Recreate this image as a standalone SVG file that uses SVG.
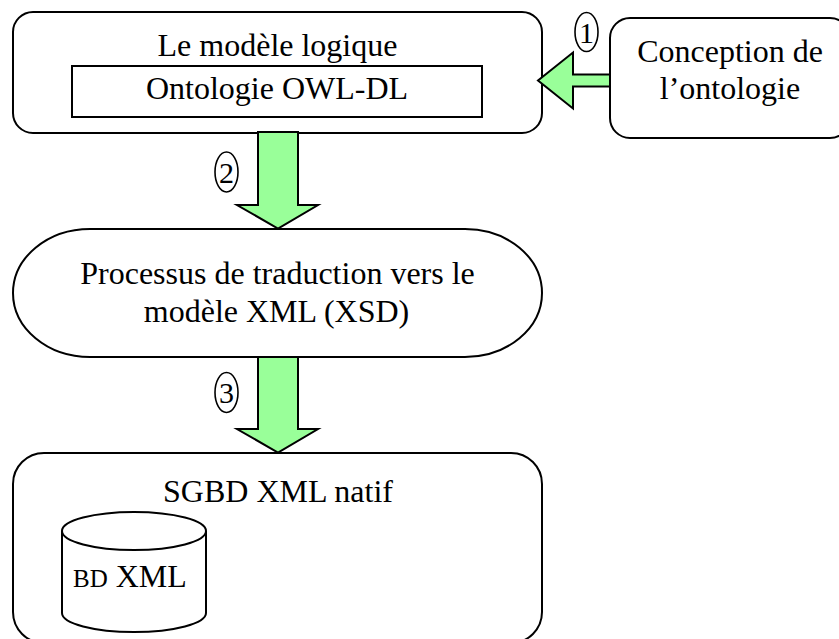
<svg xmlns="http://www.w3.org/2000/svg" width="839" height="639" viewBox="0 0 839 639">
  <style>
    .box { fill: #ffffff; stroke: #000000; stroke-width: 2; }
    .inner { fill: none; stroke: #000000; stroke-width: 2; }
    .lbl { font-family: "Liberation Serif", "Times New Roman", serif; font-size: 32px; fill: #000000; text-anchor: middle; }
    .small { font-size: 25px; }
    .step { fill: #ffffff; stroke: #000000; stroke-width: 1.6; }
    .stepnum { font-family: "Liberation Serif", "Times New Roman", serif; font-size: 30px; fill: #000000; text-anchor: middle; }
    .arrow { fill: #99ff99; stroke: #000000; stroke-width: 2; stroke-linejoin: miter; }
  </style>

  <rect width="839" height="639" fill="#ffffff"/>

  <!-- Logical model with its OWL-DL ontology -->
  <g id="modele-logique">
    <rect class="box" x="13" y="12" width="529" height="121" rx="20" ry="20"/>
    <text class="lbl" x="277.5" y="56">Le modèle logique</text>
    <rect class="inner" x="72" y="66" width="410" height="51"/>
    <text class="lbl" x="277" y="99">Ontologie OWL-DL</text>
  </g>

  <!-- Ontology design (box runs past the right edge) -->
  <g id="conception">
    <rect class="box" x="610" y="18" width="240" height="120" rx="20" ry="20"/>
    <text class="lbl" x="730" y="62">Conception de</text>
    <text class="lbl" x="730" y="99">l’ontologie</text>
  </g>

  <!-- Translation process -->
  <g id="traduction">
    <rect class="box" x="13" y="229" width="529" height="128" rx="77" ry="64"/>
    <text class="lbl" x="277.5" y="284">Processus de traduction vers le</text>
    <text class="lbl" x="276.5" y="322">modèle XML (XSD)</text>
  </g>

  <!-- Native XML DBMS holding the XML database -->
  <g id="sgbd">
    <rect class="box" x="13" y="453" width="529" height="190" rx="31" ry="31"/>
    <text class="lbl" x="278" y="502">SGBD XML natif</text>
    <g id="bd-xml">
      <path class="box" d="M62,531 V613 A72,19 0 0 0 206,613 V531"/>
      <ellipse class="box" cx="134" cy="531" rx="72" ry="19"/>
      <text class="lbl" x="73" y="587" style="text-anchor:start"><tspan class="small">BD</tspan> XML</text>
    </g>
  </g>

  <!-- Block arrows with their step numbers -->
  <g id="connecteurs">
    <path class="arrow" d="M610,74.5 H573 V52.5 L538,80.5 L573,108.5 V86.5 H610 Z"/>
    <path class="arrow" d="M258,132 H298 V205 H318 L278,228.5 L237,205 H258 Z"/>
    <path class="arrow" d="M258,357 H298 V429 H318 L278,452.5 L237,429 H258 Z"/>

    <ellipse class="step" cx="586.5" cy="32" rx="11.5" ry="19.5"/>
    <text class="stepnum" x="586.5" y="42.5">1</text>
    <ellipse class="step" cx="226.5" cy="172" rx="11.5" ry="20"/>
    <text class="stepnum" x="226.5" y="182.5">2</text>
    <ellipse class="step" cx="226.5" cy="392.5" rx="11.5" ry="20"/>
    <text class="stepnum" x="226.5" y="403">3</text>
  </g>
</svg>
